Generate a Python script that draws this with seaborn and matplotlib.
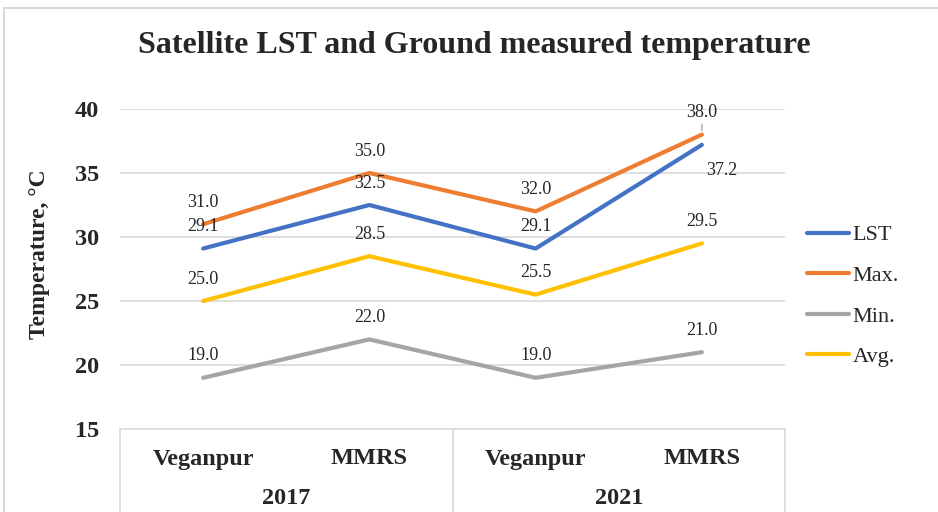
import matplotlib
matplotlib.use('Agg')
import matplotlib.pyplot as plt
from matplotlib.lines import Line2D
import seaborn as sns
import pandas as pd

# data
sites = ['Veganpur', 'MMRS', 'Veganpur', 'MMRS']
years = ['2017', '2021']
lst = [29.1, 32.5, 29.1, 37.2]
t_max = [31.0, 35.0, 32.0, 38.0]
t_min = [19.0, 22.0, 19.0, 21.0]
t_avg = [25.0, 28.5, 25.5, 29.5]
series_names = ['LST', 'Max.', 'Min.', 'Avg.']
colors = ['#4472C4', '#ED7D31', '#A5A5A5', '#FFC000']

rows = []
for name, vals in zip(series_names, [lst, t_max, t_min, t_avg]):
    for i, v in enumerate(vals):
        rows.append([name, i, v])
df = pd.DataFrame(rows, columns=['series', 'pos', 'temp'])

sns.set_theme(style='white')
plt.rcParams['font.family'] = ['Liberation Serif', 'DejaVu Serif']
plt.rcParams['lines.solid_capstyle'] = 'round'
plt.rcParams['lines.solid_joinstyle'] = 'round'

W, H = 938, 512
fig = plt.figure(figsize=(W / 100, H / 100), dpi=100)
ax = fig.add_axes([120 / W, 1 - 429 / H, 665 / W, 320 / H])

sns.lineplot(data=df, x='pos', y='temp', hue='series', hue_order=series_names,
             palette=colors, linewidth=3, ax=ax, legend=True, zorder=3)

ax.set_xlim(-0.5, 3.5)
ax.set_ylim(15, 40)
ax.set_yticks([15, 20, 25, 30, 35, 40])
ax.set_yticklabels(['15', '20', '25', '30', '35', '40'], fontsize=17.5, fontweight='bold')
ax.tick_params(axis='y', length=0, pad=15)
ax.set_xticks([])
ax.set_xlabel('')
ax.set_ylabel('')
for s in ax.spines.values():
    s.set_visible(False)
for yv in [20, 25, 30, 35, 40]:
    ax.axhline(yv, color='#D9D9D9', lw=1.2, zorder=0)

# data labels
for name, vals in zip(series_names, [lst, t_max, t_min, t_avg]):
    for i, v in enumerate(vals):
        if name == 'LST' and i == 3:
            ax.annotate(f'{v:.1f}', (i, v), xytext=(20, -26), textcoords='offset pixels',
                        ha='center', va='center', fontsize=13)
        elif name == 'Max.' and i == 3:
            ax.annotate(f'{v:.1f}', (i, v), xytext=(0, 22), textcoords='offset pixels',
                        ha='center', va='center', fontsize=13,
                        arrowprops=dict(arrowstyle='-', color='#A5A5A5', lw=1,
                                        shrinkA=8, shrinkB=3))
        else:
            ax.annotate(f'{v:.1f}', (i, v), xytext=(0, 22), textcoords='offset pixels',
                        ha='center', va='center', fontsize=13)

# category table under the plot
tcol = '#D9D9D9'
ax.add_line(Line2D([0, 1], [0, 0], transform=ax.transAxes, color=tcol, lw=1.2, clip_on=False))
for xv in [0, 0.5, 1]:
    ax.add_line(Line2D([xv, xv], [0, -0.4], transform=ax.transAxes, color=tcol, lw=1.2, clip_on=False))
trans = ax.get_xaxis_transform()
for i, s in enumerate(sites):
    ax.text(i, -30 / 320, s, transform=trans, ha='center', va='center',
            fontsize=17.5, fontweight='bold')
for j, yr in enumerate(years):
    ax.text(0.5 + 2 * j, -69 / 320, yr, transform=trans, ha='center', va='center',
            fontsize=17.5, fontweight='bold')

# legend
handles, labels = ax.get_legend_handles_labels()
leg = ax.legend(handles, labels, loc='center left', bbox_to_anchor=(807 / W, 1 - 296 / H),
                bbox_transform=fig.transFigure, frameon=False, fontsize=16,
                handlelength=1.9, handletextpad=0.15, labelspacing=0.9,
                borderpad=0, borderaxespad=0)
for ln in leg.get_lines():
    ln.set_linewidth(3)

# titles
fig.text(474 / W, 1 - 46 / H, 'Satellite LST and Ground measured temperature',
         ha='center', va='center', fontsize=23, fontweight='bold')
fig.text(40 / W, 1 - 254 / H, 'Temperature, °C', rotation=90,
         ha='center', va='center', fontsize=17, fontweight='bold')

# chart border
fig.add_artist(Line2D([4 / W, 4 / W], [0, 1 - 8 / H], color='#D9D9D9', lw=1.5))
fig.add_artist(Line2D([4 / W, 1], [1 - 8 / H, 1 - 8 / H], color='#D9D9D9', lw=1.5))

fig.savefig('out.png', dpi=100)
